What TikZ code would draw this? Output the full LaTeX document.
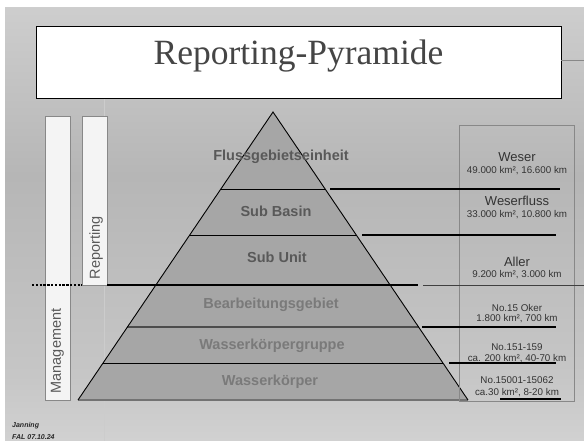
\documentclass[tikz,border=0pt]{standalone}
\usepackage{fontspec}
\setmainfont{Liberation Sans}
\newfontfamily\titlefont{Liberation Serif}
\usetikzlibrary{calc}
\definecolor{bgA}{HTML}{F2F2F2}
\definecolor{bgB}{HTML}{E8E8E8}
\definecolor{bgC}{HTML}{C6C6C6}
\definecolor{bgD}{HTML}{B6B6B6}
\definecolor{bgE}{HTML}{D2D2D2}
\definecolor{bgF}{HTML}{EEEEEE}
\definecolor{pyr}{HTML}{A6A6A6}
\definecolor{labA}{HTML}{595959}
\definecolor{labB}{HTML}{7A7A7A}
\definecolor{titlec}{HTML}{454545}
\definecolor{boxfill}{HTML}{F4F4F4}
\definecolor{boxline}{HTML}{888888}
\definecolor{infotext}{HTML}{333333}
\pgfdeclareverticalshading{bgshade}{100bp}{color(0bp)=(bgA); color(9.5bp)=(bgB); color(32.6bp)=(bgC); color(55.7bp)=(bgD); color(78.8bp)=(bgE); color(100bp)=(bgF)}
\tikzset{
  pyrlabel/.style={font=\bfseries\fontsize{14.5}{16}\selectfont, inner sep=0, anchor=base},
  upperlabel/.style={pyrlabel, text=labA},
  lowerlabel/.style={pyrlabel, text=labB},
  infoname/.style={font=\fontsize{13}{15}\selectfont, text=infotext, inner sep=0, anchor=base},
  infosub/.style={font=\fontsize{9.8}{11}\selectfont, text=infotext, inner sep=0, anchor=base},
  sidebox/.style={draw=boxline, fill=boxfill, line width=0.8pt},
  sidetext/.style={font=\fontsize{14.5}{16}\selectfont, text=labA, rotate=90, inner sep=0},
  extline/.style={line width=1.2pt, black},
}
\begin{document}
\begin{tikzpicture}[x=1pt,y=-1pt]
\useasboundingbox (0,0) rectangle (584,441);
\fill[white] (0,0) rectangle (584,441);
% background gradient
\shade[shading=bgshade] (5,8) rectangle (584,441);
% light vertical guide
\draw[line width=1pt, color=bgC!90!white] (104,98) -- (104,441);
% title
\draw[fill=white, line width=0.8pt] (36,26) rectangle (561,98);
\node[font=\titlefont\fontsize{35.5}{40}\selectfont, text=titlec, anchor=base, inner sep=0] (title) at (298.5,65) {Reporting-Pyramide};
\draw[boxline, line width=1pt] (561,61) -- (584,61);
% side boxes
\draw[sidebox] (45,116) rectangle (70,400);
\draw[sidebox] (82,116) rectangle (107,285);
\node[sidetext] (rep) at (96,248) {Reporting};
\node[sidetext] (man) at (57.5,351) {Management};
% pyramid
\coordinate (apex) at (273,112);
\coordinate (bl) at (78,400);
\coordinate (br) at (468,400);
\fill[pyr] (apex) -- (bl) -- (br) -- cycle;
\draw[black, line width=0.9pt] ($(apex)!0.2674!(bl)$) -- ($(apex)!0.2674!(br)$);
\draw[black, line width=0.9pt] ($(apex)!0.4271!(bl)$) -- ($(apex)!0.4271!(br)$);
\draw[black!70, line width=1.2pt] ($(apex)!0.7465!(bl)$) -- ($(apex)!0.7465!(br)$);
\draw[black, line width=0.9pt] ($(apex)!0.8715!(bl)$) -- ($(apex)!0.8715!(br)$);
\draw[black!55, line width=2pt] (bl) -- (br);
\draw[black, line width=0.9pt] (bl) -- (apex) -- (br);
% pyramid labels
\node[upperlabel] (l1) at (281,161) {Flussgebietseinheit};
\node[upperlabel] (l2) at (276,216.5) {Sub Basin};
\node[upperlabel] (l3) at (277,262.3) {Sub Unit};
\node[lowerlabel] (l4) at (271,308.3) {Bearbeitungsgebiet};
\node[lowerlabel] (l5) at (272,349) {Wasserkörpergruppe};
\node[lowerlabel] (l6) at (270,385.5) {Wasserkörper};
% info box
\draw[boxline, line width=1pt] (459,126) rectangle (574,401);
% external lines
\draw[extline] (330,189) -- (560,189);
\draw[extline] (362,235) -- (556,235);
\draw[extline] (422,327) -- (556,327);
\draw[extline] (449,363) -- (556,363);
\draw[black, line width=2pt] (500,399) -- (561,399);
% management / reporting boundary
\draw[black, line width=2.6pt, dash pattern=on 2.4pt off 1.4pt] (32,285) -- (82,285);
\draw[black, line width=2.6pt] (107,285) -- (418,285);
\draw[black!75, line width=1pt] (423,285) -- (584,285);
% info texts
\node[infoname] (i1) at (517,161.5) {Weser};
\node[infosub] (s1) at (517,173.5) {49.000 km², 16.600 km};
\node[infoname] (i2) at (517,206) {Weserfluss};
\node[infosub] (s2) at (517,217.7) {33.000 km², 10.800 km};
\node[infoname] (i3) at (517,266.7) {Aller};
\node[infosub] (s3) at (517,277.7) {9.200 km², 3.000 km};
\node[infosub] (i4) at (517,311) {No.15 Oker};
\node[infosub] (s4) at (517,321.7) {1.800 km², 700 km};
\node[infosub] (i5) at (517,350) {No.151-159};
\node[infosub] (s5) at (517,361) {ca. 200 km², 40-70 km};
\node[infosub] (i6) at (517,383.3) {No.15001-15062};
\node[infosub] (s6) at (517,395.7) {ca.30 km², 8-20 km};
% footer
\node[font=\bfseries\itshape\fontsize{7}{8}\selectfont, text=black!85, anchor=base west, inner sep=0] (au) at (12,427.5) {Janning};
\node[font=\bfseries\itshape\fontsize{7}{8}\selectfont, text=black!85, anchor=base west, inner sep=0] (dt) at (12,439.3) {FAL 07.10.24};
\end{tikzpicture}
\end{document}
